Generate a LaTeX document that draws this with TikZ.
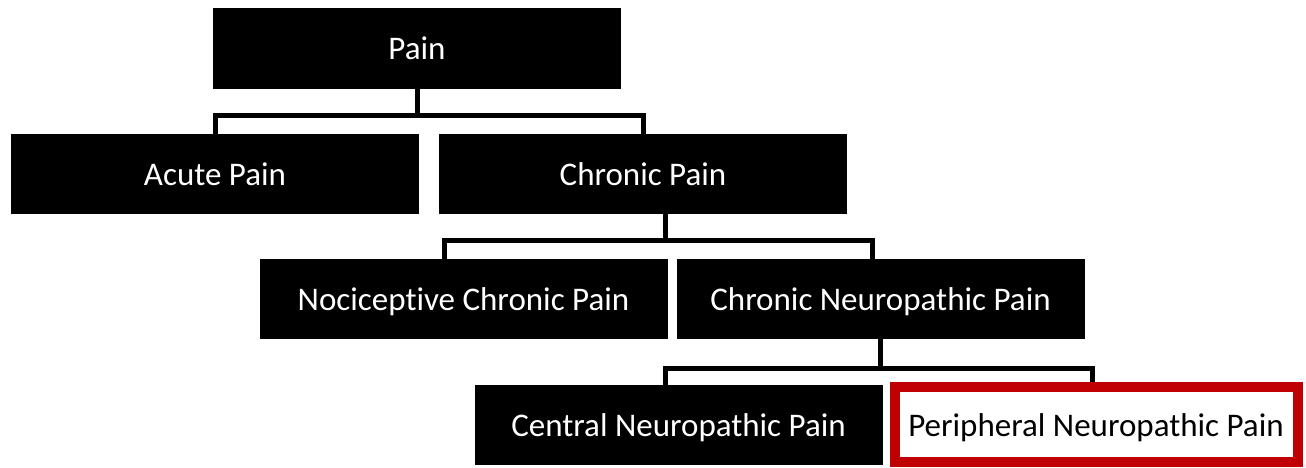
\documentclass[tikz,border=0pt]{standalone}
\usepackage{fontspec}
\setmainfont{Carlito}[Ligatures=NoCommon]
\usetikzlibrary{positioning,calc}
\definecolor{hilite}{HTML}{C00000}

\begin{document}
\begin{tikzpicture}[
  x=1pt, y=1pt,
  every node/.style={font=\fontsize{33}{39}\selectfont, text height=27pt, text depth=4pt},
  cat/.style={fill=black, text=white, inner sep=0pt, outer sep=0pt, minimum width=408pt, minimum height=80pt},
  focus/.style={draw=hilite, line width=10pt, fill=white, text=black, inner sep=0pt, minimum width=403pt, minimum height=75pt},
  conn/.style={draw, line width=5pt}
]
\useasboundingbox (0,0) rectangle (1306,468);

\node[cat, minimum height=81pt] (pain) at (417,419.5) {Pain};
\node[cat, below=45pt of pain, xshift=-202pt] (acute) {Acute Pain};
\node[cat, right=20pt of acute] (chronic) {Chronic Pain};
\node[cat, below=45pt of chronic, xshift=-179.5pt] (nocic) {Nociceptive Chronic Pain};
\node[cat, right=9pt of nocic] (cneuro) {Chronic Neuropathic Pain};
\node[cat, below=46pt of cneuro, xshift=-202pt] (central) {Central Neuropathic Pain};
\node[focus, right=7pt of central] (periph) {Peripheral Neuropathic Pain};

% level 1
\draw[conn] (pain.south) -- ++(0,-26.5) coordinate (j1);
\draw[conn] (acute.north) |- (j1) -| (chronic.north);
% level 2
\draw[conn] ([xshift=22.5pt]chronic.south) -- ++(0,-26.5) coordinate (j2);
\draw[conn] ([xshift=-19pt]nocic.north) |- (j2) -| ([xshift=-8pt]cneuro.north);
% level 3
\draw[conn] (cneuro.south) -- ++(0,-30) coordinate (j3);
\draw[conn] ([xshift=-13.5pt]central.north) |- (j3) -| ([xshift=-3.5pt]periph.north);
\end{tikzpicture}
\end{document}
